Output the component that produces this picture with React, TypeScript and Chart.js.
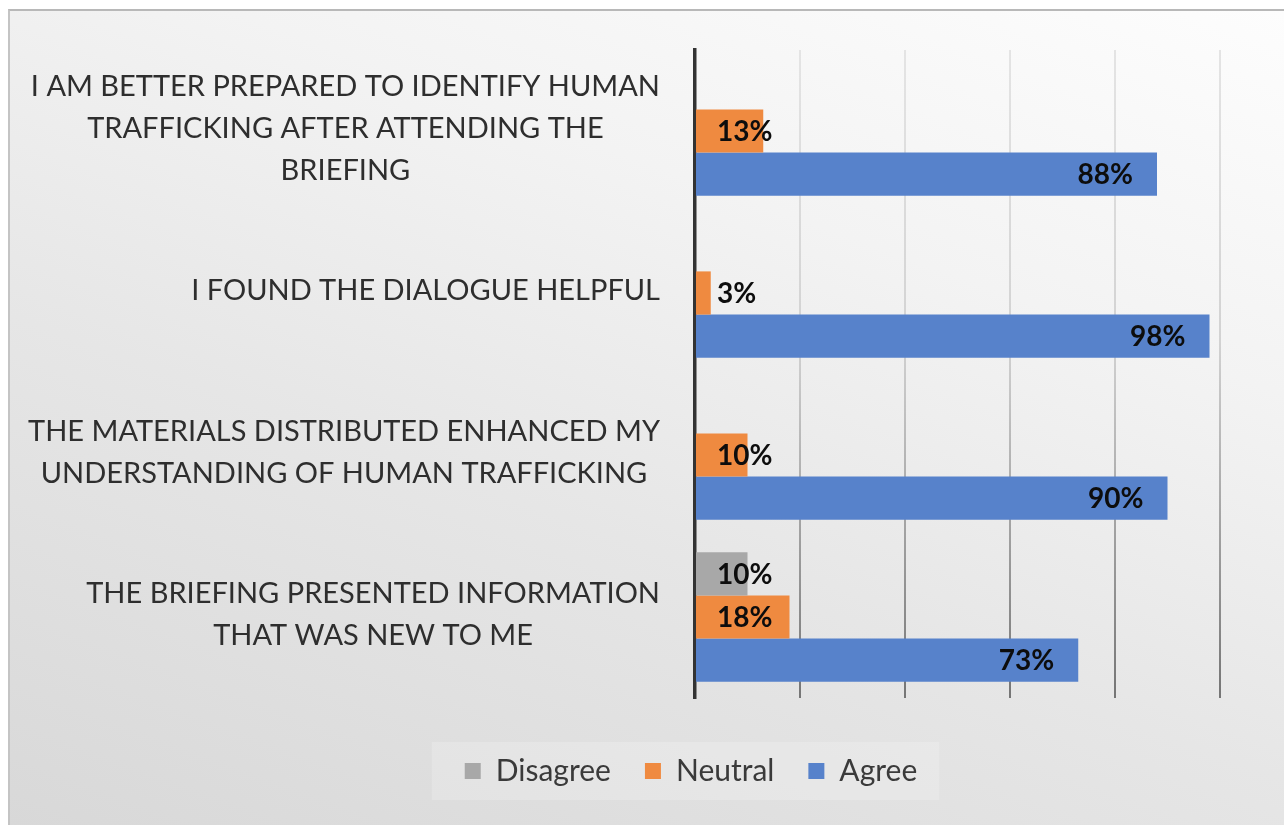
import React, { useEffect, useRef } from "react";
import { Chart, registerables } from "chart.js";

Chart.register(...registerables);

const categories: string[][] = [
  ["I AM BETTER PREPARED TO IDENTIFY HUMAN", "TRAFFICKING AFTER ATTENDING THE", "BRIEFING"],
  ["I FOUND THE DIALOGUE HELPFUL"],
  ["THE MATERIALS DISTRIBUTED ENHANCED MY", "UNDERSTANDING OF HUMAN TRAFFICKING"],
  ["THE BRIEFING PRESENTED INFORMATION", "THAT WAS NEW TO ME"],
];
const seriesNames = ["Disagree", "Neutral", "Agree"];
const disagreeValues = [0, 0, 0, 10];
const neutralValues = [13, 3, 10, 18];
const agreeValues = [88, 98, 90, 73];
const xMin = 0;
const xMax = 100;
const xStep = 20;

const FONT = "Lato";

const legendBgPlugin = {
  id: "legendBg",
  beforeDraw(chart: any) {
    const lg = chart.legend;
    if (!lg || !lg.legendHitBoxes || !lg.legendHitBoxes.length) return;
    const hb = lg.legendHitBoxes;
    const left = hb[0].left - 33;
    const last = hb[hb.length - 1];
    const right = last.left + last.width + 22;
    const cy = hb[0].top + hb[0].height / 2;
    const ctx = chart.ctx;
    ctx.save();
    ctx.fillStyle = "rgba(255,255,255,0.2)";
    ctx.fillRect(left, cy - 29, right - left, 58);
    ctx.restore();
  },
};

const yLabelPlugin = {
  id: "yLabels",
  afterDraw(chart: any) {
    const ctx = chart.ctx;
    const y = chart.scales.y;
    const right = chart.chartArea.left - 35;
    ctx.save();
    ctx.font = `29px ${FONT}`;
    ctx.fillStyle = "#2e2e2e";
    ctx.textAlign = "center";
    ctx.textBaseline = "middle";
    (chart.data.labels as any[]).forEach((lab, i) => {
      const lines: string[] = Array.isArray(lab) ? lab : [lab];
      const maxW = Math.max(...lines.map((l) => ctx.measureText(l).width));
      const cx = right - maxW / 2;
      const cy = y.getPixelForTick(i) - 2;
      const lh = 42;
      lines.forEach((l, j) => {
        ctx.fillText(l, cx, cy + (j - (lines.length - 1) / 2) * lh);
      });
    });
    ctx.restore();
  },
};

const valueLabelPlugin = {
  id: "valueLabels",
  afterDatasetsDraw(chart: any) {
    const ctx = chart.ctx;
    const x0 = chart.scales.x.getPixelForValue(0);
    ctx.save();
    ctx.font = `bold 28px ${FONT}`;
    ctx.fillStyle = "#0d0d0d";
    ctx.textBaseline = "middle";
    chart.data.datasets.forEach((ds: any, di: number) => {
      const meta = chart.getDatasetMeta(di);
      meta.data.forEach((el: any, i: number) => {
        const v = ds.data[i];
        if (!v) return;
        const txt = `${v}%`;
        if (di === 2) {
          ctx.textAlign = "right";
          ctx.fillText(txt, el.x - 24, el.y + 1);
        } else {
          ctx.textAlign = "left";
          ctx.fillText(txt, x0 + 22, el.y + 1);
        }
      });
    });
    ctx.restore();
  },
};

export default function App() {
  const ref = useRef<HTMLCanvasElement | null>(null);

  useEffect(() => {
    if (!ref.current) return;
    const chart = new Chart(ref.current, {
      type: "bar",
      data: {
        labels: categories,
        datasets: [
          { label: seriesNames[0], data: disagreeValues, backgroundColor: "#a8a8a8" },
          { label: seriesNames[1], data: neutralValues, backgroundColor: "#ef8a40" },
          { label: seriesNames[2], data: agreeValues, backgroundColor: "#5782cb" },
        ],
      },
      options: {
        indexAxis: "y",
        responsive: false,
        animation: false,
        maintainAspectRatio: false,
        datasets: {
          bar: { categoryPercentage: 0.8, barPercentage: 1.0 },
        },
        layout: { padding: { left: 152, right: 64, top: 39, bottom: 29 } },
        scales: {
          x: {
            min: xMin,
            max: xMax,
            ticks: { display: false, stepSize: xStep },
            border: { display: false },
            grid: {
              drawTicks: false,
              lineWidth: 2,
              color: (c: any) => {
                if (c.tick && c.tick.value === 0) return "rgba(0,0,0,0)";
                const area = c.chart.chartArea;
                if (!area) return "#cccccc";
                const g = c.chart.ctx.createLinearGradient(0, area.top, 0, area.bottom);
                g.addColorStop(0, "#e4e4e4");
                g.addColorStop(0.45, "#d2d2d2");
                g.addColorStop(0.75, "#a0a0a0");
                g.addColorStop(1, "#757575");
                return g;
              },
            },
            afterFit: (s: any) => {
              s.height = 24;
            },
          },
          y: {
            ticks: { display: false },
            grid: { display: false },
            border: { display: true, color: "#333333", width: 3.5 },
            afterFit: (s: any) => {
              s.width = 533;
            },
          },
        },
        plugins: {
          legend: {
            position: "bottom",
            labels: {
              boxWidth: 16,
              boxHeight: 16,
              padding: 34,
              color: "#3a3a3a",
              font: { family: FONT, size: 30 },
            },
          },
          tooltip: { enabled: false },
        },
      },
      plugins: [legendBgPlugin, yLabelPlugin, valueLabelPlugin],
    } as any);
    return () => chart.destroy();
  }, []);

  return (
    <div
      style={{
        position: "absolute",
        left: 8,
        top: 9,
        width: 1276,
        height: 816,
        borderTop: "2px solid #b8b8b8",
        borderLeft: "2px solid #c4c4c4",
        background:
          "linear-gradient(200deg, #fdfdfd 0%, #f3f3f3 30%, #e6e6e6 60%, #d8d8d8 100%)",
        overflow: "hidden",
      }}
    >
      <canvas ref={ref} width={1274} height={814} style={{ display: "block" }} />
    </div>
  );
}
